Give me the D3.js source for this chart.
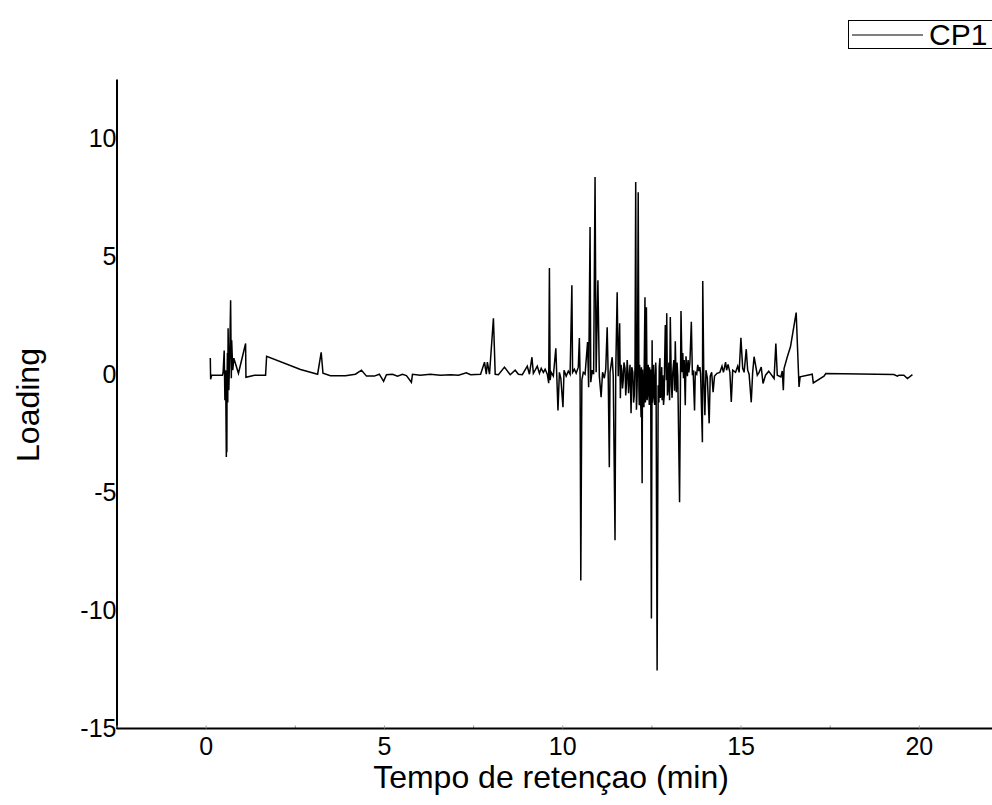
<!DOCTYPE html>
<html>
<head>
<meta charset="utf-8">
<script src="https://cdn.jsdelivr.net/npm/d3@7"></script>
<style>
  html, body { margin: 0; padding: 0; background: #fff; }
  svg { display: block; font-family: "Liberation Sans", Arial, sans-serif; }
</style>
</head>
<body>
<svg id="chart" width="992" height="805"></svg>
<script>
// Loading of the first principal component (CP1) against retention time.
// Each entry: [retention time (min), loading]
const cp1 = [
  [0.13, 0.69], [0.14, -0.21], [0.17, -0.04], [0.47, -0.04], [0.49, 0.08],
  [0.52, 1.0], [0.54, -1.1], [0.56, 0.17], [0.58, -3.5], [0.59, -0.6], [0.595, -3.3],
  [0.60, -0.25], [0.61, 0.9], [0.62, -1.2],
  [0.63, 1.95], [0.65, -0.68], [0.68, 1.23], [0.70, 3.13], [0.72, -0.17],
  [0.73, 1.44], [0.76, 0.17], [0.79, 0.68], [0.92, 0.04], [1.12, 1.30],
  [1.13, -0.13], [1.37, -0.04], [1.68, -0.04], [1.71, 0.76], [2.66, 0.2],
  [3.14, 0.0], [3.24, 0.93], [3.29, 0.04], [3.50, -0.06], [3.92, -0.06],
  [4.20, 0.0], [4.37, 0.17], [4.51, -0.08], [4.73, -0.08], [4.87, 0.0],
  [4.99, -0.3], [5.07, -0.02], [5.24, 0.0], [5.38, -0.08], [5.52, 0.0],
  [5.63, -0.06], [5.77, -0.34], [5.80, 0.0], [6.02, -0.04], [6.30, 0.0],
  [6.58, -0.04], [6.87, -0.02], [7.09, -0.04], [7.31, 0.06], [7.43, -0.02],
  [7.71, 0.0], [7.82, 0.51], [7.87, 0.0], [7.90, 0.51], [7.96, 0.0],
  [8.07, 2.37], [8.12, 0.0], [8.21, -0.02], [8.38, 0.3], [8.54, -0.02],
  [8.68, 0.17], [8.77, 0.0], [8.88, -0.02], [9.02, 0.34], [9.08, 0.0],
  [9.15, 0.72], [9.19, 0.04], [9.24, 0.17], [9.30, 0.34], [9.36, 0.04],
  [9.41, 0.25], [9.47, 0.08], [9.52, 0.21], [9.58, 0.0], [9.62, -0.38],
  [9.64, 4.5], [9.66, -0.25], [9.69, 0.08], [9.75, -0.08], [9.82, 1.1],
  [9.88, -1.53], [9.92, 0.08], [9.96, -0.17], [10.02, -1.4], [10.05, 0.17],
  [10.11, -0.08], [10.17, 0.13], [10.22, 0.0], [10.27, 3.77], [10.29, 0.08],
  [10.34, 0.21], [10.39, 0.04], [10.45, 0.3], [10.48, 1.53], [10.50, -0.08],
  [10.52, -8.73], [10.55, -0.25], [10.59, 0.08], [10.64, 0.0], [10.71, 1.36],
  [10.74, -0.55], [10.78, 6.23], [10.80, -0.34], [10.84, 0.17], [10.88, 0.0],
  [10.92, 8.35], [10.95, 0.08], [11.0, 3.98], [11.04, -0.08], [11.09, -0.97],
  [11.13, 0.08], [11.18, -0.17], [11.22, 0.21], [11.26, 1.99], [11.29, -0.17],
  [11.32, -3.94], [11.34, 0.08], [11.40, 0.72], [11.43, -0.08], [11.48, -7.03],
  [11.50, 0.08], [11.54, 3.47], [11.57, -0.08], [11.61, 2.16], [11.63, -1.02],
  [11.65, 0.4], [11.67, 0.17], [11.69, -0.6], [11.71, -0.25], [11.73, 0.5],
  [11.76, 0.25], [11.78, -0.9], [11.80, -0.42], [11.82, 0.6], [11.84, 0.17],
  [11.86, -0.8], [11.88, -0.17], [11.90, 0.4], [11.93, -1.65], [11.95, 0.3],
  [11.98, 0.08], [12.0, -1.2], [12.02, -0.89], [12.04, 0.3], [12.06, 8.14],
  [12.08, -1.5], [12.09, -1.1], [12.11, 0.2], [12.13, 7.71], [12.15, -0.6],
  [12.16, -1.31], [12.17, 0.4], [12.19, -0.25], [12.20, -1.2], [12.21, -1.82],
  [12.22, 0.3], [12.24, -4.62], [12.25, 0.2], [12.27, -0.68], [12.29, -1.4],
  [12.30, 0.5], [12.32, 3.26], [12.33, -1.2], [12.34, -0.89], [12.35, 0.6],
  [12.36, 2.84], [12.38, -1.1], [12.40, -0.76], [12.41, 0.4], [12.42, -0.04],
  [12.44, -1.3], [12.45, 0.3], [12.46, -1.02], [12.48, 0.2], [12.50, -10.34],
  [12.52, 1.44], [12.53, -1.2], [12.55, -0.89], [12.56, 0.4], [12.58, -0.25],
  [12.59, -1.3], [12.61, -1.02], [12.62, 0.5], [12.63, 0.17], [12.66, -12.54],
  [12.69, -0.47], [12.71, -1.2], [12.72, 0.3], [12.74, 0.68], [12.75, -1.0],
  [12.77, -0.76], [12.79, 0.3], [12.80, -1.1], [12.82, -0.04], [12.84, -1.3],
  [12.86, -0.89], [12.87, 0.4],
  [12.89, 2.08], [12.92, -0.25], [12.93, 2.58], [12.95, -0.9], [12.97, -0.59],
  [12.99, 0.5], [13.01, -1.1], [13.03, 2.42],
  [13.06, -0.47], [13.08, -1.0], [13.10, 0.08], [13.13, 0.6], [13.15, -0.7],
  [13.17, 1.4], [13.20, -0.76], [13.22, 0.5], [13.24, -0.08],
  [13.29, -5.42], [13.33, 2.68], [13.36, 0.08], [13.38, 0.9], [13.40, -0.17],
  [13.42, 0.6], [13.45, -1.31],
  [13.47, 0.76], [13.49, 0.3], [13.51, -0.08], [13.53, 0.6], [13.55, 0.08],
  [13.58, 0.5], [13.62, 2.22], [13.65, -0.04],
  [13.67, 0.17], [13.71, -1.53], [13.73, 0.08], [13.77, 0.0], [13.80, 0.4],
  [13.83, 0.13], [13.86, 0.3],
  [13.88, 0.0], [13.93, -2.88], [13.94, 3.95], [13.97, -0.17], [14.00, -1.74],
  [14.03, 0.17], [14.07, -0.17], [14.12, -2.08], [14.15, -0.08], [14.19, 0.08],
  [14.23, -0.76], [14.27, -0.08], [14.34, 0.04], [14.42, 0.08], [14.48, 0.34],
  [14.52, 0.08], [14.58, 0.51], [14.61, 0.17], [14.65, 0.42], [14.70, 0.08],
  [14.74, -1.17], [14.78, 0.17], [14.86, 0.08], [14.92, 0.34], [14.96, 0.08],
  [15.01, 1.54], [15.06, 0.25], [15.10, 0.08], [15.16, 1.06], [15.20, 0.17],
  [15.24, 0.0], [15.30, -1.19], [15.34, 0.08], [15.38, 0.74], [15.47, -0.04],
  [15.52, 0.08], [15.58, 0.3], [15.63, -0.39], [15.70, -0.04], [15.79, 0.13],
  [15.94, -0.18], [15.99, 1.3], [16.03, -0.04], [16.13, -0.11], [16.17, 0.14],
  [16.20, -0.68], [16.22, 0.24], [16.31, 0.73], [16.40, 1.16], [16.56, 2.61],
  [16.64, -0.54], [16.67, -0.11], [17.01, 0.0], [17.04, -0.37], [17.34, -0.08],
  [17.39, 0.03], [19.30, -0.01], [19.40, -0.08], [19.44, -0.04], [19.58, -0.04],
  [19.68, -0.18], [19.82, -0.02]
];

const xDomain = [-2.5, 22.5];
const yDomain = [-15, 12.5];
const xMajorTicks = [0, 5, 10, 15, 20];
const xMinorTicks = [-2.5, 2.5, 7.5, 12.5, 17.5, 22.5];
const yTicks = [-15, -10, -5, 0, 5, 10];
const seriesName = "CP1";
const xTitle = "Tempo de retençao (min)";
const yTitle = "Loading";

const svg = d3.select("#chart");
const plotLeft = 116.5, plotBottom = 728.5, plotTop = 79;
const x = d3.scaleLinear().domain(xDomain).range([plotLeft, plotLeft + 25 * 35.66]);
const y = d3.scaleLinear().domain(yDomain).range([plotBottom, plotTop]);
const fmt = d => String(d);   // plain hyphen for negatives

// y axis (labels sit against the axis line)
const gy = svg.append("g")
  .attr("transform", `translate(${plotLeft},0)`)
  .call(d3.axisLeft(y).tickValues(yTicks).tickSize(0).tickPadding(0).tickFormat(fmt));
gy.select(".domain").attr("stroke", "#000").attr("stroke-width", 2);
gy.selectAll("text").attr("font-size", 25).attr("fill", "#000")
  .attr("font-family", "Liberation Sans, Arial, sans-serif");

// x axis: minor ticks, then major ticks with labels
const gxm = svg.append("g")
  .attr("transform", `translate(0,${plotBottom})`)
  .call(d3.axisBottom(x).tickValues(xMinorTicks).tickSize(-3).tickFormat(""));
gxm.select(".domain").remove();
gxm.selectAll("line").attr("stroke", "#999");

const gx = svg.append("g")
  .attr("transform", `translate(0,${plotBottom})`)
  .call(d3.axisBottom(x).tickValues(xMajorTicks).tickSize(-3).tickPadding(9).tickFormat(fmt));
gx.select(".domain").attr("stroke", "#000").attr("stroke-width", 2)
  .attr("d", `M${plotLeft},0H${x(xDomain[1])}`);
gx.selectAll("line").attr("stroke", "#999");
gx.selectAll("text").attr("font-size", 25).attr("fill", "#000")
  .attr("font-family", "Liberation Sans, Arial, sans-serif");

// series line
const line = d3.line().x(d => x(d[0])).y(d => y(d[1]));
svg.append("path")
  .datum(cp1)
  .attr("fill", "none")
  .attr("stroke", "#000")
  .attr("stroke-width", 1.5)
  .attr("stroke-linejoin", "miter")
  .attr("d", line);

// axis titles
svg.append("text")
  .attr("x", 551).attr("y", 788)
  .attr("text-anchor", "middle")
  .attr("font-size", 32)
  .text(xTitle);
svg.append("text")
  .attr("transform", "translate(39,405) rotate(-90)")
  .attr("text-anchor", "middle")
  .attr("font-size", 32)
  .text(yTitle);

// legend
const lg = svg.append("g");
lg.append("rect")
  .attr("x", 848.5).attr("y", 20.5).attr("width", 160).attr("height", 28)
  .attr("fill", "#fff").attr("stroke", "#000").attr("stroke-width", 1);
lg.append("line")
  .attr("x1", 852).attr("x2", 923).attr("y1", 35).attr("y2", 35)
  .attr("stroke", "#000").attr("stroke-width", 1.2);
lg.append("text")
  .attr("x", 929).attr("y", 45)
  .attr("font-size", 30)
  .text(seriesName);
</script>
</body>
</html>
